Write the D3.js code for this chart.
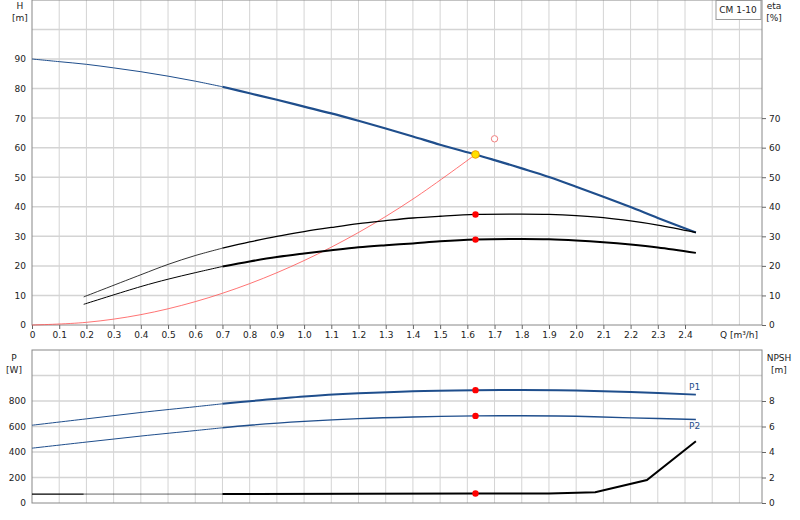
<!DOCTYPE html><html><head><meta charset="utf-8">
<script src="https://cdn.jsdelivr.net/npm/d3@7"></script>
<style>body{margin:0;background:#fff}text{font-family:"DejaVu Sans",sans-serif;font-size:9px;fill:#222}</style></head><body>
<svg id="c" width="800" height="520"></svg>
<script>
const headQ=[0,0.1,0.2,0.3,0.4,0.5,0.6,0.7,0.8,0.9,1.0,1.1,1.2,1.3,1.4,1.5,1.63,1.7,1.8,1.9,2.0,2.1,2.2,2.3,2.44];
const headH=[90,89.1,88.2,87,85.7,84.2,82.5,80.6,78.4,76.2,73.9,71.6,69.1,66.5,63.8,61,57.7,55.8,53,50.1,46.8,43.4,39.9,36.2,31.3];
const etaQ=[0.19,0.4,0.5,0.6,0.7,0.8,0.9,1.0,1.1,1.2,1.3,1.4,1.5,1.63,1.8,1.9,2.0,2.1,2.2,2.3,2.44];
const eta1=[9.5,17,20.5,23.5,26,28.1,30,31.6,33,34.3,35.3,36.2,36.8,37.4,37.5,37.4,37,36.3,35.2,33.8,31.3];
const eta2=[7,13,15.5,17.7,19.8,21.5,23,24.2,25.3,26.3,27,27.6,28.3,28.9,29.1,29,28.6,28,27.2,26.2,24.4];
const sysQ=[0,0.2,0.4,0.6,0.8,1.0,1.2,1.4,1.63];
const sysH=[0,0.9,3.5,7.9,14,21.8,31.3,42.6,57.7];
const pQ=[0,0.2,0.4,0.6,0.7,0.8,1.0,1.2,1.4,1.63,1.8,2.0,2.2,2.44];
const p1=[610,660,710,755,778,798,835,860,877,885,887,882,870,850];
const p2=[430,478,525,568,590,610,640,662,675,683,684,680,668,655];
const npQ=[0,0.19,0.7,1.2,1.63,1.9,2.07,2.26,2.44];
const npsh=[0.7,0.7,0.7,0.72,0.75,0.75,0.85,1.8,4.85];
const dutyQ=1.63, dutyH=57.7, dutyEta1=37.4, dutyEta2=28.9, dutyP1=885, dutyP2=683, dutyNpsh=0.75;
const bepQ=1.7, bepH=63;
const xTicks=[0,0.1,0.2,0.3,0.4,0.5,0.6,0.7,0.8,0.9,1.0,1.1,1.2,1.3,1.4,1.5,1.6,1.7,1.8,1.9,2.0,2.1,2.2,2.3,2.4];
const hTicks=[0,10,20,30,40,50,60,70,80,90];
const etaTicks=[0,10,20,30,40,50,60,70];
const pTicks=[0,200,400,600,800];
const npTicks=[0,2,4,6,8];

const svg=d3.select("#c");
const L=32,R=762;
const x=d3.scaleLinear().domain([0,2.4]).range([L,685]);
const yH=d3.scaleLinear().domain([0,90]).range([325,59]);
const yP=d3.scaleLinear().domain([0,800]).range([503,401]);
const yN=d3.scaleLinear().domain([0,8]).range([503,401]);
const gridC="#d4d4d4";
function grid(top,bot,yScale,yvals){
  const g=svg.append("g");
  for(let i=1;i<=26;i++){const xv=x(i/10); if(xv<R) g.append("line").attr("x1",xv).attr("x2",xv).attr("y1",top).attr("y2",bot).attr("stroke",gridC);}
  yvals.forEach(v=>g.append("line").attr("x1",L).attr("x2",R).attr("y1",yScale(v)).attr("y2",yScale(v)).attr("stroke",gridC).attr("stroke-width",1.5));
  g.append("rect").attr("x",L).attr("y",top).attr("width",R-L).attr("height",bot-top).attr("fill","none").attr("stroke","#888");
}
grid(0,325,yH,[10,20,30,40,50,60,70,80,90,100]);
grid(350,503,yP,[200,400,600,800,1000]);
svg.append("g").attr("transform",`translate(${L},0)`).call(d3.axisLeft(yH).tickValues(hTicks).tickSize(0).tickPadding(6)).call(g=>g.select(".domain").remove());
svg.append("g").attr("transform",`translate(${R},0)`).call(d3.axisRight(yH).tickValues(etaTicks).tickSize(4).tickPadding(3)).call(g=>g.select(".domain").remove());
svg.append("g").attr("transform",`translate(0,325)`).call(d3.axisBottom(x).tickValues(xTicks).tickSize(4).tickFormat(d=>d===0?"0":d3.format(".1f")(d))).call(g=>g.select(".domain").remove());
svg.append("g").attr("transform",`translate(${L},0)`).call(d3.axisLeft(yP).tickValues(pTicks).tickSize(0).tickPadding(6)).call(g=>g.select(".domain").remove());
svg.append("g").attr("transform",`translate(${R},0)`).call(d3.axisRight(yN).tickValues(npTicks).tickSize(4).tickPadding(3)).call(g=>g.select(".domain").remove());
svg.selectAll(".tick line").attr("stroke","#666");
const t=(s,xx,yy,a)=>svg.append("text").attr("x",xx).attr("y",yy).attr("text-anchor",a||"middle").text(s);
t("H",20,9);t("[m]",20,21);t("eta",774,9);t("[%]",774,21);
t("Q [m³/h]",739,338);
t("P",14,361);t("[W]",14,373);t("NPSH",779,361);t("[m]",779,373);
svg.append("rect").attr("x",716).attr("y",0.5).attr("width",45).attr("height",19).attr("fill","#fff").attr("stroke","#999");
t("CM 1-10",738,13);
svg.append("text").attr("x",689).attr("y",390).text("P1").style("fill","#1f4e8c");
svg.append("text").attr("x",689).attr("y",429).text("P2").style("fill","#1f4e8c");
function curve(qs,vs,ys,col,thin,thick,split){
  const ln=d3.line().x(d=>x(d[0])).y(d=>ys(d[1])).curve(d3.curveCatmullRom);
  const pts=qs.map((q,i)=>[q,vs[i]]);
  const a=pts.filter(p=>p[0]<=split), b=pts.filter(p=>p[0]>=split);
  if(a.length>1) svg.append("path").attr("d",ln(a)).attr("fill","none").attr("stroke",col).attr("stroke-width",thin);
  if(b.length>1) svg.append("path").attr("d",ln(b)).attr("fill","none").attr("stroke",col).attr("stroke-width",thick);
}
const blue="#1f4e8c";
curve(sysQ,sysH,yH,"#ff5050",0.8,0.8,9);
curve(headQ,headH,yH,blue,1,2.2,0.7);
curve(etaQ,eta1,yH,"#000",0.8,1.3,0.7);
curve(etaQ,eta2,yH,"#000",1,2,0.7);
curve(pQ,p1,yP,blue,1,2,0.7);
curve(pQ,p2,yP,blue,1,1.4,0.7);
const nl=d3.line().x(d=>x(d[0])).y(d=>yN(d[1]));
const np=npQ.map((q,i)=>[q,npsh[i]]);
svg.append("path").attr("d",nl(np.slice(0,2))).attr("fill","none").attr("stroke","#000").attr("stroke-width",1.2);
svg.append("path").attr("d",nl(np.slice(1,3))).attr("fill","none").attr("stroke","#000").attr("stroke-width",0.6);
svg.append("path").attr("d",nl(np.slice(2))).attr("fill","none").attr("stroke","#000").attr("stroke-width",2);
const dot=(q,v,ys)=>svg.append("circle").attr("cx",x(q)).attr("cy",ys(v)).attr("r",3.2).attr("fill","#f00");
dot(dutyQ,dutyEta1,yH);dot(dutyQ,dutyEta2,yH);dot(dutyQ,dutyP1,yP);dot(dutyQ,dutyP2,yP);dot(dutyQ,dutyNpsh,yN);
svg.append("circle").attr("cx",x(dutyQ)).attr("cy",yH(dutyH)).attr("r",3.8).attr("fill","#ffe000").attr("stroke","#f0a000");
svg.append("circle").attr("cx",x(bepQ)).attr("cy",yH(bepH)).attr("r",3.2).attr("fill","#fff").attr("stroke","#f08080");
</script></body></html>
